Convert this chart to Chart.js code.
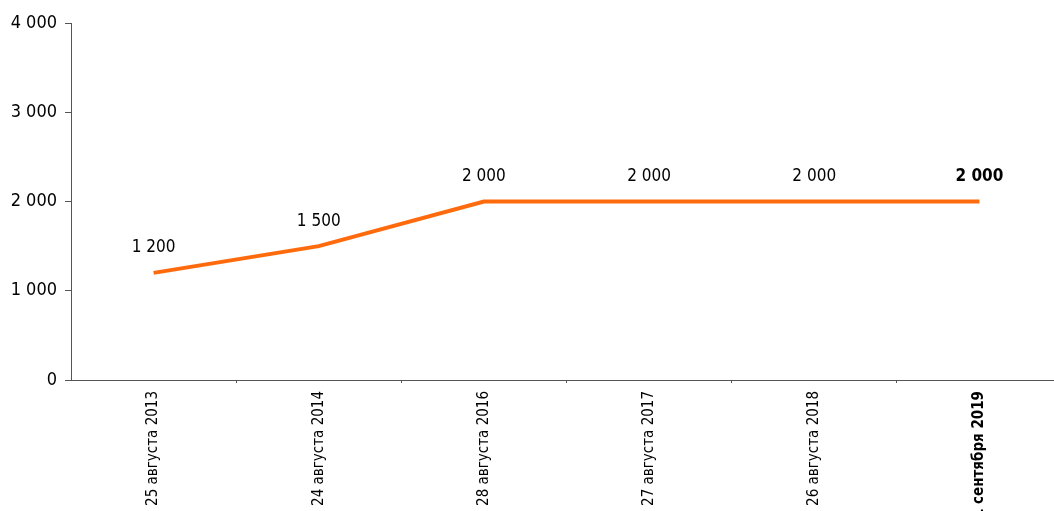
<!DOCTYPE html>
<html>
<head>
<meta charset="utf-8">
<script src="https://cdn.jsdelivr.net/npm/chart.js@4"></script>
<style>
    html, body { margin: 0; padding: 0; background: #fff; overflow: hidden; }
    #wrap { width: 1062px; height: 511px; }
</style>
</head>
<body>
<div id="wrap"><canvas id="lineChart"></canvas></div>
<script>
// Chart data
const categories = ['25 августа 2013', '24 августа 2014', '28 августа 2016', '27 августа 2017', '26 августа 2018', '1 сентября 2019'];
const values = [1200, 1500, 2000, 2000, 2000, 2000];
const yTicks = [0, 1000, 2000, 3000, 4000];

const fontFamily = '"DejaVu Sans Condensed", "Open Sans", sans-serif';
const lastIndex = categories.length - 1;

// number format with space separator: 1 200
function formatNum(v) {
    return String(v).replace(/\B(?=(\d{3})+(?!\d))/g, ' ');
}

// Draw value labels above points
const valueLabels = {
    id: 'valueLabels',
    afterDatasetsDraw(chart) {
        const ctx = chart.ctx;
        const meta = chart.getDatasetMeta(0);
        ctx.save();
        ctx.fillStyle = '#000';
        ctx.textAlign = 'center';
        ctx.textBaseline = 'middle';
        meta.data.forEach((pt, i) => {
            ctx.font = (i === lastIndex ? 'bold ' : '') + '17px ' + fontFamily;
            ctx.fillText(formatNum(values[i]), pt.x, pt.y - 25);
        });
        ctx.restore();
    }
};

new Chart(document.getElementById('lineChart'), {
    type: 'line',
    data: {
        labels: categories,
        datasets: [{
            data: values,
            borderColor: '#ff6a0d',
            borderWidth: 4,
            pointRadius: 0,
            tension: 0,
            fill: false
        }]
    },
    options: {
        responsive: true,
        maintainAspectRatio: false,
        animation: false,
        layout: { padding: { top: 23, right: 0, left: 0, bottom: 0 } },
        plugins: {
            legend: { display: false },
            tooltip: { enabled: false }
        },
        scales: {
            x: {
                offset: true,
                afterFit: (scale) => { scale.height = 131; },
                border: { color: '#555', width: 1 },
                grid: {
                    offset: true,
                    drawOnChartArea: false,
                    tickLength: 3,
                    color: (c) => c.index === 0 ? 'rgba(0,0,0,0)' : '#555'
                },
                ticks: {
                    minRotation: 90,
                    maxRotation: 90,
                    autoSkip: false,
                    padding: 8,
                    color: '#000',
                    font: (c) => ({
                        family: fontFamily,
                        size: 15,
                        weight: c.index === lastIndex ? 'bold' : 'normal'
                    })
                }
            },
            y: {
                min: 0,
                max: 4000,
                afterFit: (scale) => { scale.width = 71; },
                afterBuildTicks: (scale) => { scale.ticks = yTicks.map(v => ({ value: v })); },
                border: { color: '#555', width: 1 },
                grid: {
                    drawOnChartArea: false,
                    tickLength: 6,
                    color: '#555'
                },
                ticks: {
                    padding: 8,
                    color: '#000',
                    font: { family: fontFamily, size: 18 },
                    callback: (v) => formatNum(v)
                }
            }
        }
    },
    plugins: [valueLabels]
});
</script>
</body>
</html>
